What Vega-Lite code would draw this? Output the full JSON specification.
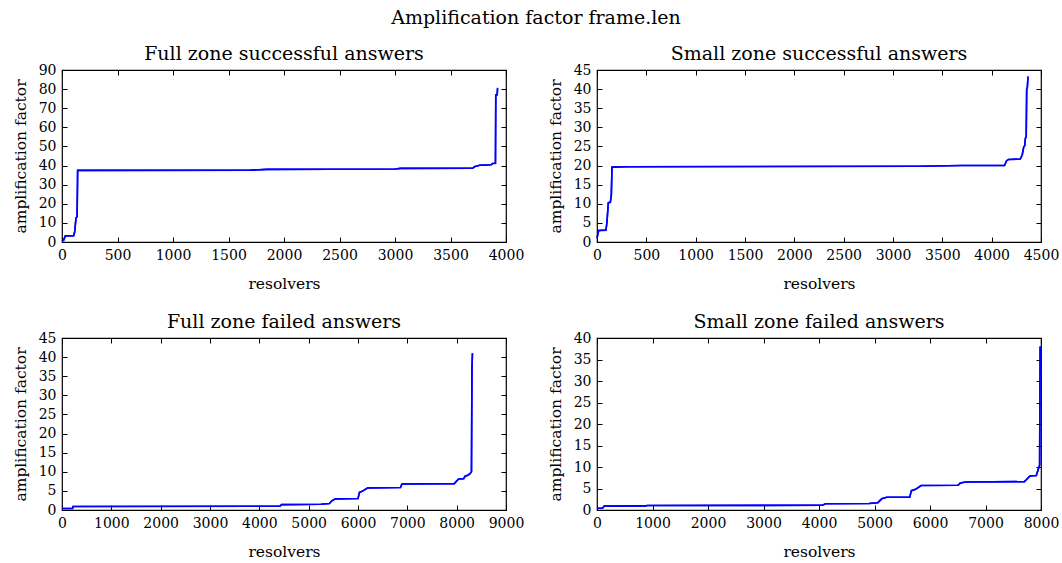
{
  "$schema": "https://vega.github.io/schema/vega-lite/v6.json",
  "padding": {"left": 12, "top": 9, "right": 0, "bottom": 0},
  "background": "white",
  "title": {"text": "Amplification factor frame.len", "fontSize": 19, "font": "DejaVu Serif", "fontWeight": "normal", "color": "black", "anchor": "middle", "offset": 16},
  "config": {
    "font": "DejaVu Serif",
    "view": {"stroke": "black", "strokeWidth": 1.2},
    "axis": {
      "grid": false, "domain": false, "tickColor": "black", "tickSize": -5, "tickWidth": 1,
      "labelPadding": 11, "labelFont": "DejaVu Serif", "labelFontSize": 14, "labelColor": "black",
      "labelFlush": false, "labelOverlap": false, "format": "d",
      "titleFont": "DejaVu Serif", "titleFontSize": 15.5, "titleFontWeight": "normal", "titleColor": "black"
    },
    "axisX": {"titlePadding": 14},
    "axisY": {"titlePadding": 10},
    "title": {"fontSize": 19, "fontWeight": "normal", "font": "DejaVu Serif", "color": "black", "offset": -1},
    "line": {"color": "#0000ff", "strokeWidth": 1.6}
  },
  "datasets": {
    "fs": [
      {"x": 0, "y": 0.5}, {"x": 15, "y": 1}, {"x": 30, "y": 3.2}, {"x": 105, "y": 3.3}, {"x": 114, "y": 5.2},
      {"x": 126, "y": 12.5}, {"x": 136, "y": 13.2}, {"x": 141, "y": 37.5}, {"x": 1700, "y": 37.6}, {"x": 1850, "y": 38.0},
      {"x": 3000, "y": 38.2}, {"x": 3050, "y": 38.5}, {"x": 3700, "y": 38.6}, {"x": 3715, "y": 39.4}, {"x": 3762, "y": 40.2},
      {"x": 3867, "y": 40.4}, {"x": 3878, "y": 41.1}, {"x": 3905, "y": 41.2}, {"x": 3908, "y": 76.9}, {"x": 3920, "y": 77},
      {"x": 3924, "y": 80.2}, {"x": 3930, "y": 80.3}
    ],
    "ss": [
      {"x": 0, "y": 1}, {"x": 17, "y": 3.0}, {"x": 90, "y": 3.1}, {"x": 100, "y": 4.9}, {"x": 115, "y": 10.3},
      {"x": 135, "y": 10.4}, {"x": 145, "y": 12.2}, {"x": 152, "y": 19.6}, {"x": 300, "y": 19.7}, {"x": 3270, "y": 19.8},
      {"x": 3700, "y": 20.0}, {"x": 4130, "y": 20.0}, {"x": 4150, "y": 21.2}, {"x": 4170, "y": 21.6}, {"x": 4290, "y": 21.7},
      {"x": 4310, "y": 22.8}, {"x": 4325, "y": 24.9}, {"x": 4335, "y": 25.2}, {"x": 4342, "y": 27.2}, {"x": 4350, "y": 27.4},
      {"x": 4355, "y": 40.0}, {"x": 4362, "y": 40.5}, {"x": 4368, "y": 43.3}
    ],
    "ff": [
      {"x": 0, "y": 0.4}, {"x": 215, "y": 0.4}, {"x": 225, "y": 0.9}, {"x": 4420, "y": 1.0}, {"x": 4450, "y": 1.4},
      {"x": 5250, "y": 1.5}, {"x": 5420, "y": 1.7}, {"x": 5470, "y": 2.4}, {"x": 5540, "y": 2.9}, {"x": 6000, "y": 3.0},
      {"x": 6030, "y": 4.6}, {"x": 6100, "y": 5.0}, {"x": 6200, "y": 5.8}, {"x": 6860, "y": 5.9}, {"x": 6890, "y": 6.8},
      {"x": 7950, "y": 6.9}, {"x": 8040, "y": 8.1}, {"x": 8140, "y": 8.2}, {"x": 8175, "y": 8.9}, {"x": 8230, "y": 9.1},
      {"x": 8270, "y": 9.5}, {"x": 8300, "y": 10.0}, {"x": 8310, "y": 37}, {"x": 8320, "y": 41}
    ],
    "sf": [
      {"x": 0, "y": 0.4}, {"x": 100, "y": 0.4}, {"x": 130, "y": 0.9}, {"x": 880, "y": 0.95}, {"x": 900, "y": 1.05},
      {"x": 4060, "y": 1.1}, {"x": 4120, "y": 1.45}, {"x": 4900, "y": 1.5}, {"x": 5060, "y": 1.7}, {"x": 5130, "y": 2.6},
      {"x": 5220, "y": 2.95}, {"x": 5635, "y": 3.0}, {"x": 5665, "y": 4.5}, {"x": 5740, "y": 4.8}, {"x": 5840, "y": 5.7},
      {"x": 6505, "y": 5.75}, {"x": 6540, "y": 6.2}, {"x": 6630, "y": 6.5}, {"x": 7700, "y": 6.6}, {"x": 7740, "y": 7.1},
      {"x": 7800, "y": 7.9}, {"x": 7915, "y": 8.0}, {"x": 7960, "y": 9.8}, {"x": 7975, "y": 10.5}, {"x": 7985, "y": 38}
    ]
  },
  "bounds": "flush",
  "columns": 2,
  "spacing": {"row": 96, "column": 91},
  "concat": [
    {
      "width": 444, "height": 172,
      "title": "Full zone successful answers",
      "data": {"name": "fs"},
      "resolve": {"axis": {"x": "independent", "y": "independent"}},
      "layer": [
        {"mark": "line", "encoding": {
          "x": {"field": "x", "type": "quantitative", "scale": {"domain": [0, 4000], "nice": false}, "axis": {"title": "resolvers", "values": [0, 500, 1000, 1500, 2000, 2500, 3000, 3500, 4000]}},
          "y": {"field": "y", "type": "quantitative", "scale": {"domain": [0, 90], "nice": false}, "axis": {"title": "amplification factor", "values": [0, 10, 20, 30, 40, 50, 60, 70, 80, 90]}}}},
        {"mark": "line", "encoding": {
          "x": {"field": "x", "type": "quantitative", "axis": {"orient": "top", "labels": false, "title": null, "values": [0, 500, 1000, 1500, 2000, 2500, 3000, 3500, 4000]}},
          "y": {"field": "y", "type": "quantitative", "axis": {"orient": "right", "labels": false, "title": null, "values": [0, 10, 20, 30, 40, 50, 60, 70, 80, 90]}}}}
      ]
    },
    {
      "width": 444, "height": 172,
      "title": "Small zone successful answers",
      "data": {"name": "ss"},
      "resolve": {"axis": {"x": "independent", "y": "independent"}},
      "layer": [
        {"mark": "line", "encoding": {
          "x": {"field": "x", "type": "quantitative", "scale": {"domain": [0, 4500], "nice": false}, "axis": {"title": "resolvers", "values": [0, 500, 1000, 1500, 2000, 2500, 3000, 3500, 4000, 4500]}},
          "y": {"field": "y", "type": "quantitative", "scale": {"domain": [0, 45], "nice": false}, "axis": {"title": "amplification factor", "values": [0, 5, 10, 15, 20, 25, 30, 35, 40, 45]}}}},
        {"mark": "line", "encoding": {
          "x": {"field": "x", "type": "quantitative", "axis": {"orient": "top", "labels": false, "title": null, "values": [0, 500, 1000, 1500, 2000, 2500, 3000, 3500, 4000, 4500]}},
          "y": {"field": "y", "type": "quantitative", "axis": {"orient": "right", "labels": false, "title": null, "values": [0, 5, 10, 15, 20, 25, 30, 35, 40, 45]}}}}
      ]
    },
    {
      "width": 444, "height": 172,
      "title": "Full zone failed answers",
      "data": {"name": "ff"},
      "resolve": {"axis": {"x": "independent", "y": "independent"}},
      "layer": [
        {"mark": "line", "encoding": {
          "x": {"field": "x", "type": "quantitative", "scale": {"domain": [0, 9000], "nice": false}, "axis": {"title": "resolvers", "values": [0, 1000, 2000, 3000, 4000, 5000, 6000, 7000, 8000, 9000]}},
          "y": {"field": "y", "type": "quantitative", "scale": {"domain": [0, 45], "nice": false}, "axis": {"title": "amplification factor", "values": [0, 5, 10, 15, 20, 25, 30, 35, 40, 45]}}}},
        {"mark": "line", "encoding": {
          "x": {"field": "x", "type": "quantitative", "axis": {"orient": "top", "labels": false, "title": null, "values": [0, 1000, 2000, 3000, 4000, 5000, 6000, 7000, 8000, 9000]}},
          "y": {"field": "y", "type": "quantitative", "axis": {"orient": "right", "labels": false, "title": null, "values": [0, 5, 10, 15, 20, 25, 30, 35, 40, 45]}}}}
      ]
    },
    {
      "width": 444, "height": 172,
      "title": "Small zone failed answers",
      "data": {"name": "sf"},
      "resolve": {"axis": {"x": "independent", "y": "independent"}},
      "layer": [
        {"mark": "line", "encoding": {
          "x": {"field": "x", "type": "quantitative", "scale": {"domain": [0, 8000], "nice": false}, "axis": {"title": "resolvers", "values": [0, 1000, 2000, 3000, 4000, 5000, 6000, 7000, 8000]}},
          "y": {"field": "y", "type": "quantitative", "scale": {"domain": [0, 40], "nice": false}, "axis": {"title": "amplification factor", "values": [0, 5, 10, 15, 20, 25, 30, 35, 40]}}}},
        {"mark": "line", "encoding": {
          "x": {"field": "x", "type": "quantitative", "axis": {"orient": "top", "labels": false, "title": null, "values": [0, 1000, 2000, 3000, 4000, 5000, 6000, 7000, 8000]}},
          "y": {"field": "y", "type": "quantitative", "axis": {"orient": "right", "labels": false, "title": null, "values": [0, 5, 10, 15, 20, 25, 30, 35, 40]}}}}
      ]
    }
  ]
}
